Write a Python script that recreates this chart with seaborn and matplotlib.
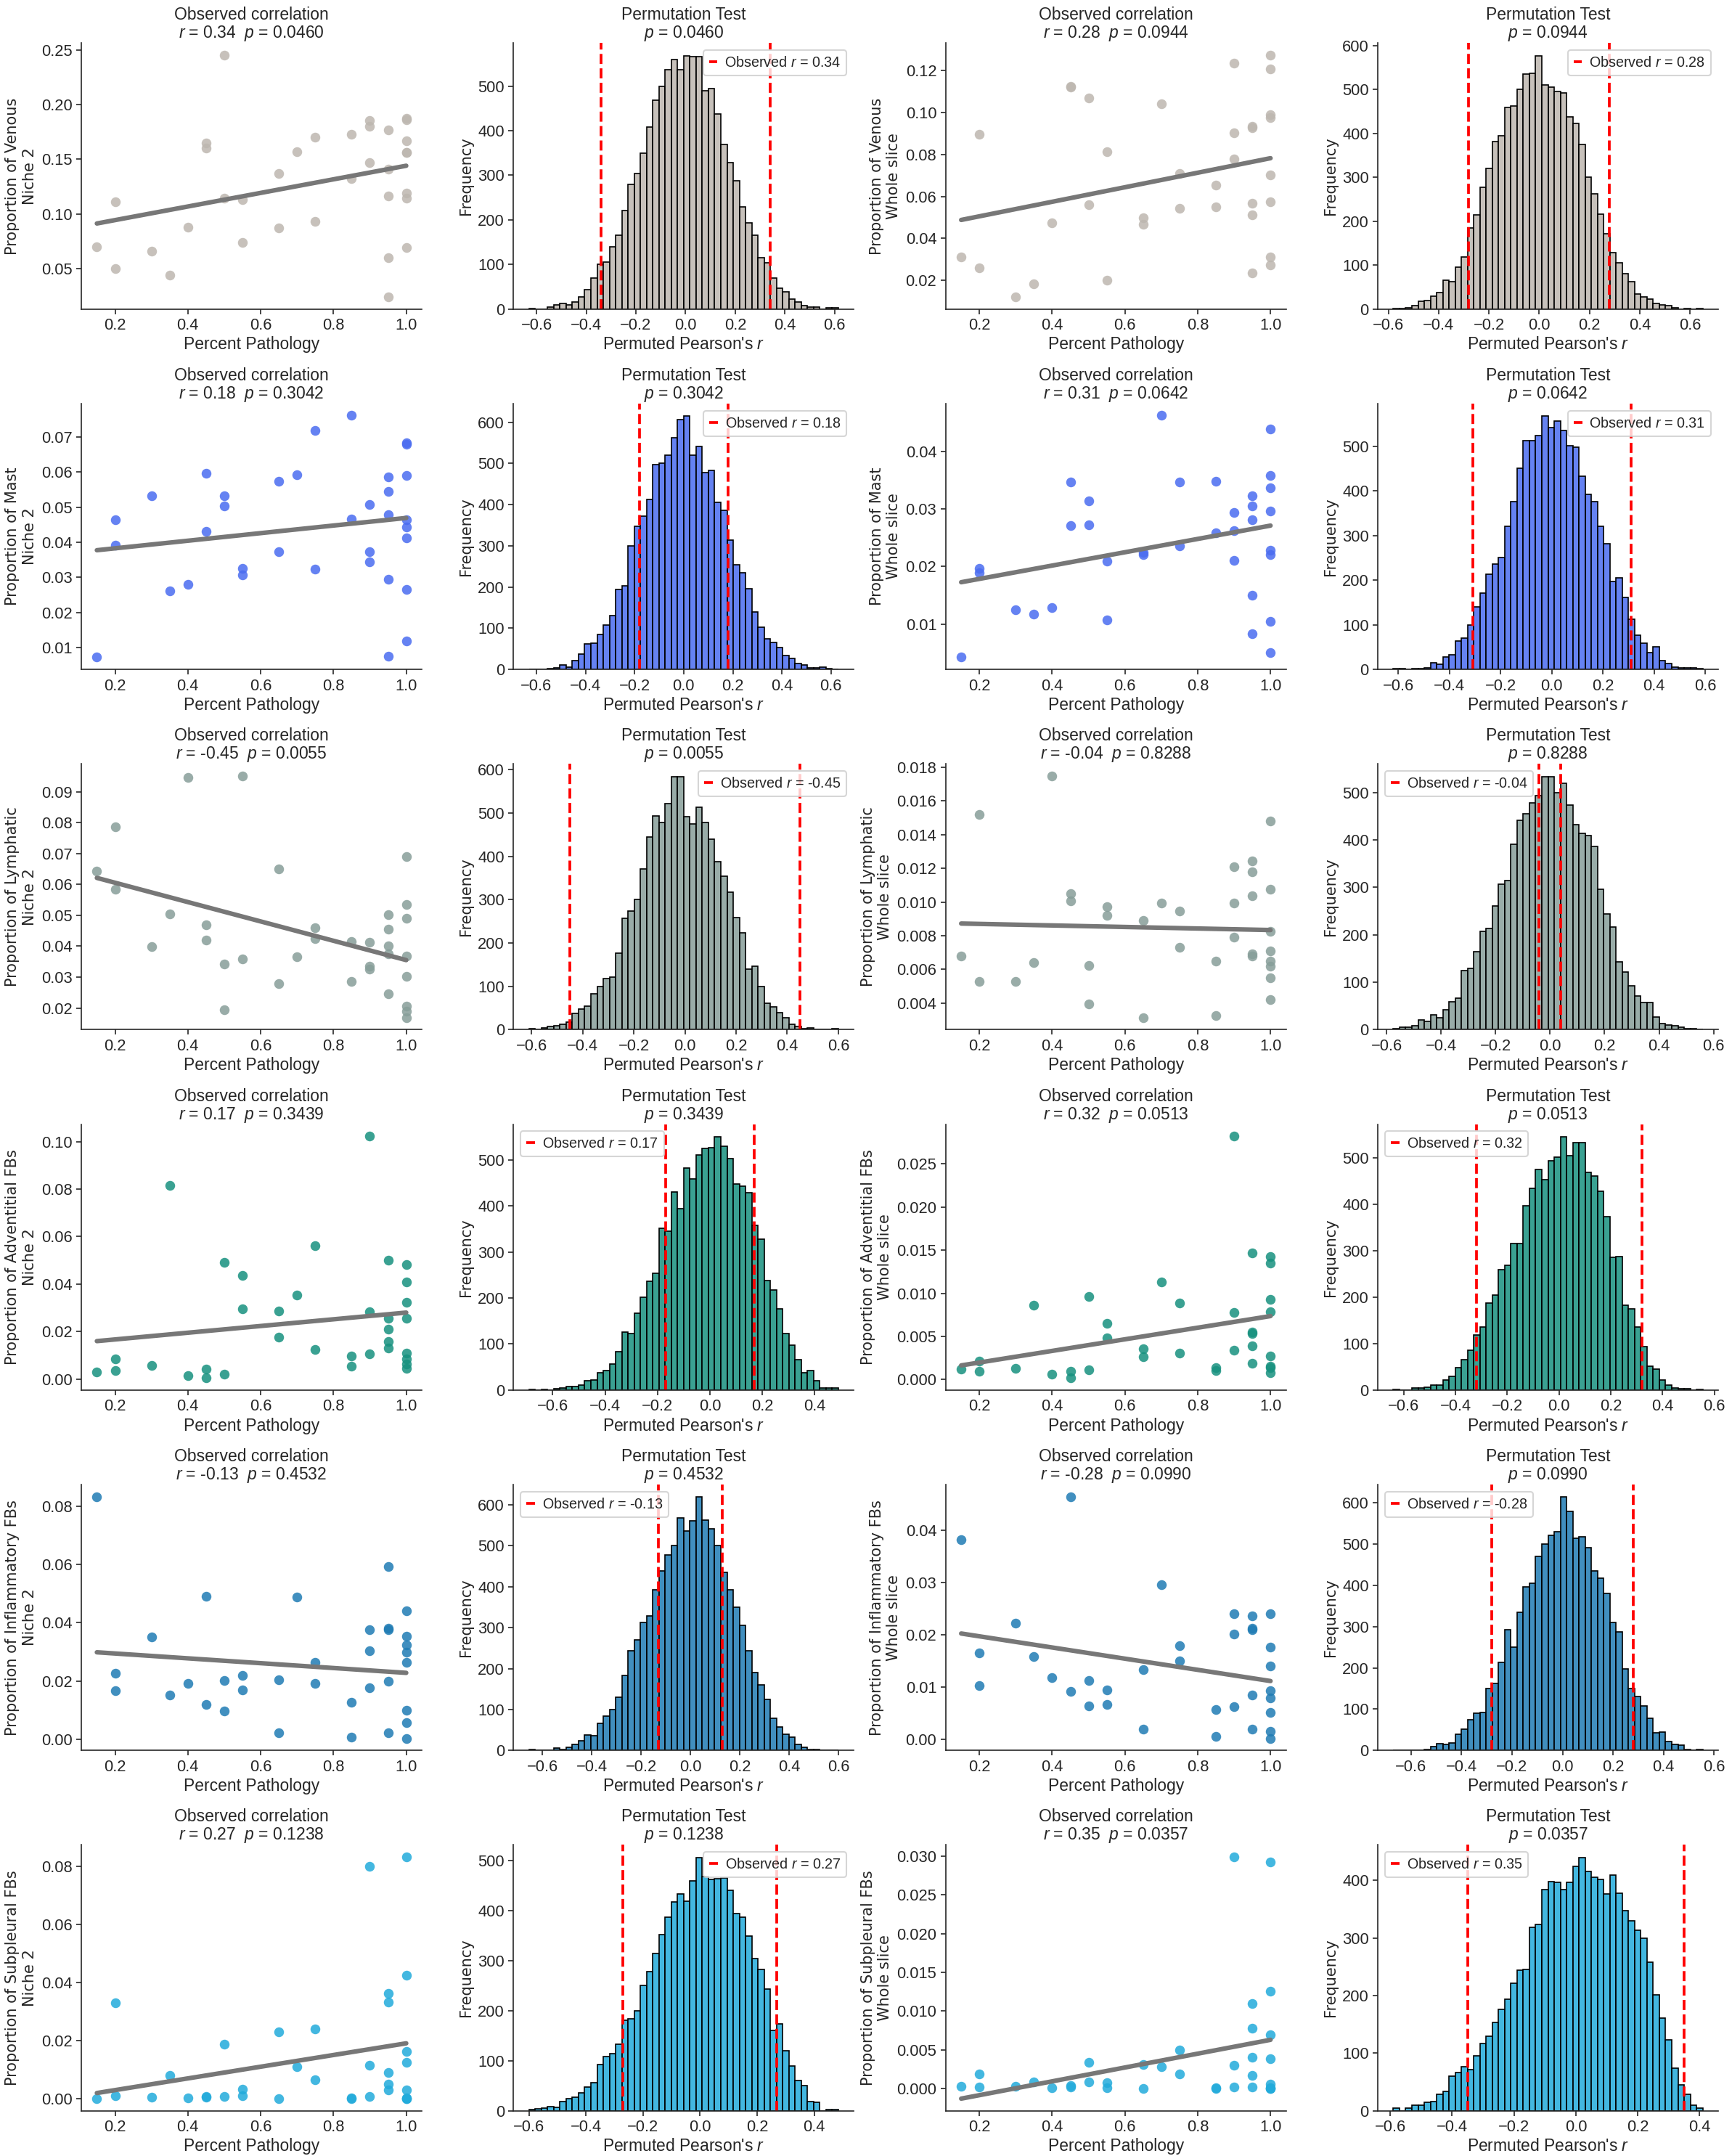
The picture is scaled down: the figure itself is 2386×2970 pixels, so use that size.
import numpy as np
import matplotlib.pyplot as plt
from matplotlib.ticker import MultipleLocator
import seaborn as sns

sns.set_style('ticks')
plt.rcParams['font.family'] = ['Liberation Sans', 'DejaVu Sans']
plt.rcParams['mathtext.fontset'] = 'custom'
plt.rcParams['mathtext.it'] = 'Liberation Sans:italic'
plt.rcParams['mathtext.rm'] = 'Liberation Sans'

# percent pathology per sample (shared by all panels)
pathology = [0.15, 0.2, 0.2, 0.3, 0.35, 0.4, 0.45, 0.45, 0.5, 0.5, 0.55, 0.55, 0.65, 0.65, 0.7,
             0.75, 0.75, 0.85, 0.85, 0.9, 0.9, 0.9, 0.95, 0.95, 0.95, 0.95, 0.95,
             1.0, 1.0, 1.0, 1.0, 1.0, 1.0, 1.0, 1.0]

# proportions, niche 2 and whole slice
venous_niche = [0.070, 0.111, 0.050, 0.066, 0.044, 0.088, 0.165, 0.160, 0.245, 0.114, 0.113, 0.074,
                0.137, 0.087, 0.157, 0.170, 0.093, 0.173, 0.132, 0.185, 0.180, 0.147, 0.177, 0.141,
                0.116, 0.060, 0.024, 0.187, 0.186, 0.167, 0.156, 0.156, 0.119, 0.114, 0.069]
venous_whole = [0.0313, 0.0897, 0.0260, 0.0121, 0.0184, 0.0473, 0.1125, 0.1121, 0.1068, 0.0562, 0.0814,
                0.0201, 0.0497, 0.0466, 0.1043, 0.0710, 0.0542, 0.0654, 0.0551, 0.1235, 0.0904, 0.0779,
                0.0935, 0.0927, 0.0568, 0.0512, 0.0236, 0.1273, 0.1207, 0.0988, 0.0974, 0.0703, 0.0574,
                0.0313, 0.0275]
mast_niche = [0.0072, 0.0463, 0.0392, 0.0532, 0.0261, 0.0280, 0.0597, 0.0430, 0.0532, 0.0503, 0.0326,
              0.0307, 0.0574, 0.0372, 0.0592, 0.0719, 0.0324, 0.0761, 0.0467, 0.0507, 0.0372, 0.0344,
              0.0586, 0.0544, 0.0478, 0.0294, 0.0076, 0.0684, 0.0680, 0.0590, 0.0465, 0.0444, 0.0413,
              0.0265, 0.0119]
mast_whole = [0.0042, 0.0197, 0.0189, 0.0125, 0.0117, 0.0128, 0.0347, 0.0271, 0.0315, 0.0273, 0.0210,
              0.0107, 0.0225, 0.0221, 0.0463, 0.0347, 0.0236, 0.0348, 0.0259, 0.0294, 0.0262, 0.0211,
              0.0323, 0.0305, 0.0282, 0.0150, 0.0083, 0.0440, 0.0358, 0.0337, 0.0297, 0.0229, 0.0221,
              0.0104, 0.0050]
lymph_niche = [0.0642, 0.0786, 0.0585, 0.0398, 0.0505, 0.0946, 0.0469, 0.0420, 0.0342, 0.0195, 0.0951,
               0.0358, 0.0649, 0.0280, 0.0365, 0.0460, 0.0424, 0.0416, 0.0285, 0.0413, 0.0335, 0.0325,
               0.0502, 0.0455, 0.0401, 0.0375, 0.0245, 0.0691, 0.0535, 0.0491, 0.0368, 0.0302, 0.0206,
               0.0190, 0.0169]
lymph_whole = [0.00678, 0.01519, 0.00526, 0.00530, 0.00639, 0.01749, 0.01051, 0.01008, 0.00621, 0.00396,
               0.00973, 0.00921, 0.00890, 0.00313, 0.00995, 0.00947, 0.00730, 0.00647, 0.00326, 0.01211,
               0.00995, 0.00791, 0.01242, 0.01181, 0.01038, 0.00691, 0.00678, 0.01480, 0.01077, 0.00825,
               0.00708, 0.00647, 0.00617, 0.00548, 0.00422]
adv_niche = [0.0029, 0.0084, 0.0035, 0.0056, 0.0816, 0.0013, 0.0041, 0.0004, 0.0490, 0.0019, 0.0435,
             0.0296, 0.0287, 0.0176, 0.0355, 0.0561, 0.0124, 0.0096, 0.0053, 0.1023, 0.0284, 0.0106,
             0.0499, 0.0256, 0.0210, 0.0158, 0.0130, 0.0481, 0.0410, 0.0324, 0.0256, 0.0108, 0.0084,
             0.0063, 0.0044]
adv_whole = [0.00119, 0.00212, 0.00093, 0.00127, 0.00864, 0.00059, 0.00093, 0.00017, 0.00958, 0.00110,
             0.00653, 0.00483, 0.00356, 0.00263, 0.01127, 0.00890, 0.00305, 0.00136, 0.00102, 0.02822,
             0.00780, 0.00339, 0.01466, 0.00551, 0.00534, 0.00390, 0.00186, 0.01424, 0.01347, 0.00932,
             0.00788, 0.00271, 0.00153, 0.00136, 0.00076]
infl_niche = [0.0833, 0.0227, 0.0166, 0.0352, 0.0151, 0.0191, 0.0490, 0.0119, 0.0201, 0.0096, 0.0219,
              0.0169, 0.0204, 0.0023, 0.0487, 0.0264, 0.0191, 0.0126, 0.0008, 0.0375, 0.0304, 0.0176,
              0.0593, 0.0380, 0.0375, 0.0199, 0.0021, 0.0440, 0.0354, 0.0324, 0.0299, 0.0264, 0.0099,
              0.0056, 0.0003]
infl_whole = [0.0382, 0.0166, 0.0103, 0.0222, 0.0159, 0.0118, 0.0465, 0.0092, 0.0113, 0.0064, 0.0095,
              0.0067, 0.0134, 0.0019, 0.0296, 0.0180, 0.0150, 0.0057, 0.0005, 0.0240, 0.0201, 0.0062,
              0.0237, 0.0213, 0.0210, 0.0085, 0.0020, 0.0241, 0.0176, 0.0141, 0.0093, 0.0079, 0.0051,
              0.0015, 0.0002]
subp_niche = [0.0001, 0.0330, 0.0011, 0.0006, 0.0081, 0.0003, 0.0008, 0.0006, 0.0187, 0.0008, 0.0033,
              0.0011, 0.0229, 0.0001, 0.0111, 0.0239, 0.0064, 0.0003, 0.0001, 0.0799, 0.0116, 0.0008,
              0.0362, 0.0332, 0.0091, 0.0049, 0.0031, 0.0832, 0.0425, 0.0162, 0.0126, 0.0031, 0.0003,
              0.0001, 0.0000]
subp_whole = [0.0003, 0.0019, 0.0002, 0.0003, 0.0009, 0.0001, 0.0004, 0.0002, 0.0034, 0.0009, 0.0008,
              0.0001, 0.0031, 0.0000, 0.0028, 0.0050, 0.0019, 0.0001, 0.0000, 0.0299, 0.0030, 0.0002,
              0.0110, 0.0078, 0.0041, 0.0017, 0.0002, 0.0292, 0.0126, 0.0070, 0.0039, 0.0006, 0.0001,
              0.0000, 0.0000]

# permutation null distributions: counts in 50 bins over (min, max) of permuted r
venous_niche_perm = [2, 0, 0, 4, 9, 13, 9, 16, 28, 44, 70, 101, 106, 140, 165, 221, 279, 304, 349, 408,
                     468, 500, 537, 560, 537, 568, 566, 566, 489, 495, 437, 369, 328, 288, 229, 194, 165,
                     115, 103, 70, 47, 38, 23, 16, 8, 5, 4, 0, 3, 3]
venous_whole_perm = [1, 2, 3, 7, 17, 20, 30, 38, 65, 63, 95, 118, 185, 215, 277, 321, 382, 395, 460, 463,
                     500, 535, 537, 577, 511, 506, 496, 492, 437, 423, 375, 300, 262, 217, 172, 128, 105,
                     80, 62, 35, 28, 22, 12, 10, 7, 3, 0, 1, 0, 1]
mast_niche_perm = [1, 1, 1, 2, 4, 10, 6, 22, 37, 62, 64, 85, 108, 130, 194, 203, 299, 348, 372, 412,
                   498, 500, 520, 563, 606, 615, 520, 541, 478, 483, 405, 387, 314, 254, 234, 196, 140,
                   103, 74, 66, 53, 34, 27, 15, 10, 3, 3, 6, 2, 1]
mast_whole_perm = [1, 1, 0, 1, 1, 4, 15, 11, 28, 32, 63, 70, 100, 141, 171, 214, 237, 251, 321, 376,
                   451, 513, 513, 524, 568, 543, 557, 536, 502, 499, 434, 393, 377, 321, 282, 197, 206,
                   161, 112, 76, 59, 38, 50, 20, 14, 5, 4, 4, 3, 2]
lymph_niche_perm = [2, 0, 4, 7, 9, 12, 17, 38, 48, 55, 83, 100, 118, 122, 176, 257, 274, 301, 370, 445,
                    493, 478, 521, 584, 583, 492, 475, 513, 478, 440, 387, 354, 317, 259, 224, 140, 146,
                    100, 61, 53, 39, 27, 12, 8, 3, 5, 0, 0, 0, 2]
lymph_whole_perm = [2, 6, 6, 9, 21, 17, 31, 26, 42, 59, 67, 125, 129, 165, 207, 214, 261, 307, 314, 391,
                    441, 455, 478, 494, 534, 534, 500, 520, 474, 432, 414, 409, 386, 296, 244, 217, 143,
                    121, 93, 71, 57, 58, 27, 13, 10, 8, 5, 3, 2, 1]
adv_niche_perm = [2, 0, 1, 0, 3, 5, 7, 8, 11, 21, 22, 38, 43, 57, 84, 126, 123, 167, 201, 237,
                  254, 352, 345, 430, 394, 482, 458, 511, 524, 527, 550, 530, 503, 448, 443, 428, 357,
                  327, 238, 217, 176, 122, 97, 66, 38, 43, 20, 5, 5, 5]
adv_whole_perm = [2, 0, 0, 4, 5, 6, 10, 10, 22, 30, 49, 65, 86, 119, 136, 188, 204, 259, 269, 316,
                  316, 396, 434, 474, 453, 493, 501, 545, 505, 532, 533, 468, 460, 428, 373, 285, 287,
                  182, 174, 136, 94, 51, 45, 21, 10, 4, 3, 3, 0, 2]
infl_niche_perm = [2, 0, 0, 0, 5, 2, 7, 15, 24, 38, 36, 66, 84, 100, 130, 184, 243, 270, 313, 328,
                   393, 438, 477, 501, 568, 536, 561, 619, 562, 541, 501, 436, 393, 350, 306, 243, 190,
                   160, 125, 79, 57, 39, 32, 15, 8, 3, 2, 0, 0, 1]
infl_whole_perm = [1, 1, 1, 1, 0, 3, 9, 17, 15, 18, 39, 52, 75, 90, 92, 150, 163, 213, 293, 250,
                   334, 396, 406, 471, 500, 521, 530, 614, 580, 514, 517, 492, 435, 418, 380, 311, 288,
                   198, 150, 131, 108, 77, 43, 44, 22, 14, 12, 3, 1, 2]
subp_niche_perm = [2, 4, 5, 8, 7, 18, 24, 27, 35, 48, 56, 92, 108, 114, 133, 181, 183, 200, 251, 278,
                   314, 352, 387, 417, 433, 419, 459, 506, 468, 462, 463, 465, 441, 394, 387, 349, 304,
                   283, 243, 160, 174, 120, 90, 60, 50, 18, 17, 0, 3, 3]
subp_whole_perm = [4, 0, 5, 9, 10, 15, 16, 28, 33, 60, 66, 77, 72, 95, 117, 130, 154, 176, 194, 221,
                   244, 245, 319, 324, 384, 398, 397, 384, 397, 424, 440, 416, 406, 402, 376, 409, 378,
                   347, 330, 313, 300, 258, 201, 161, 123, 74, 45, 28, 10, 4]

# range (min, max) of the permuted r values
perm_ranges = [(-0.63, 0.615), (-0.58, 0.65), (-0.63, 0.63), (-0.62, 0.59), (-0.61, 0.60), (-0.575, 0.56),
               (-0.69, 0.49), (-0.64, 0.555), (-0.655, 0.60), (-0.67, 0.555), (-0.60, 0.485), (-0.59, 0.41)]

observed_r = [0.34, 0.28, 0.18, 0.31, -0.45, -0.04, 0.17, 0.32, -0.13, -0.28, 0.27, 0.35]
p_values = ['0.0460', '0.0944', '0.3042', '0.0642', '0.0055', '0.8288',
            '0.3439', '0.0513', '0.4532', '0.0990', '0.1238', '0.0357']

cell_types = ['Venous', 'Mast', 'Lymphatic', 'Adventitial FBs', 'Inflammatory FBs', 'Subpleural FBs']
regions = ['Niche 2', 'Whole slice']
palette = ['#bdb7b0', '#4a6cf0', '#879e99', '#17917f', '#1f7cb4', '#22abdb']

proportions = [venous_niche, venous_whole, mast_niche, mast_whole, lymph_niche, lymph_whole,
               adv_niche, adv_whole, infl_niche, infl_whole, subp_niche, subp_whole]
perm_counts = [venous_niche_perm, venous_whole_perm, mast_niche_perm, mast_whole_perm,
               lymph_niche_perm, lymph_whole_perm, adv_niche_perm, adv_whole_perm,
               infl_niche_perm, infl_whole_perm, subp_niche_perm, subp_whole_perm]
legend_locs = ['upper right', 'upper right', 'upper right', 'upper right', 'upper right', 'upper left',
               'upper left', 'upper left', 'upper left', 'upper left', 'upper right', 'upper left']
ytick_steps = [0.05, 0.02, 0.01, 0.01, 0.01, 0.002, 0.02, 0.005, 0.02, 0.01, 0.02, 0.005]

title_kw = dict(fontsize=11, pad=3, linespacing=1.05)
ylabel_kw = dict(fontsize=10, family='DejaVu Sans', labelpad=3)

fig, axes = plt.subplots(6, 4, figsize=(2386 / 150, 2970 / 150), dpi=150)

for i, cell in enumerate(cell_types):
    color = palette[i]
    for j, region in enumerate(regions):
        k = 2 * i + j
        r = observed_r[k]
        p = p_values[k]

        ax = axes[i, 2 * j]
        sns.regplot(x=pathology, y=proportions[k], ax=ax, ci=None,
                    scatter_kws={'color': color, 'alpha': 0.85, 's': 42, 'linewidths': 0},
                    line_kws={'color': '#777777', 'lw': 3})
        ax.yaxis.set_major_locator(MultipleLocator(ytick_steps[k]))
        ax.xaxis.set_major_locator(MultipleLocator(0.2))
        ax.set_title(f'Observed correlation\n$r$ = {r:.2f}  $p$ = {p}', **title_kw)
        ax.set_xlabel('Percent Pathology', fontsize=11, labelpad=2)
        ax.set_ylabel(f'Proportion of {cell}\n{region}', **ylabel_kw)

        ax = axes[i, 2 * j + 1]
        lo, hi = perm_ranges[k]
        edges = np.linspace(lo, hi, 51)
        centers = (edges[:-1] + edges[1:]) / 2
        sns.histplot(x=centers, weights=perm_counts[k], bins=50, binrange=(lo, hi), ax=ax,
                     color=color, alpha=0.85, edgecolor='black', linewidth=0.8)
        ax.axvline(abs(r), color='red', ls='--', lw=1.8, label=f'Observed $r$ = {r:.2f}')
        ax.axvline(-abs(r), color='red', ls='--', lw=1.8)
        ax.xaxis.set_major_locator(MultipleLocator(0.2))
        ax.yaxis.set_major_locator(MultipleLocator(100))
        ax.set_title(f'Permutation Test\n$p$ = {p}', **title_kw)
        ax.set_xlabel("Permuted Pearson's $r$", fontsize=11, labelpad=2)
        ax.set_ylabel('Frequency', **ylabel_kw)
        ax.legend(loc=legend_locs[k], fontsize=9.5, handlelength=0.6, handletextpad=0.5)

for ax in axes.flatten():
    ax.tick_params(labelsize=10.5, pad=2.5)
    sns.despine(ax=ax)

fig.subplots_adjust(left=0.047, right=0.992, top=0.980, bottom=0.021, wspace=0.27, hspace=0.355)
plt.savefig('out.png', dpi=150)
